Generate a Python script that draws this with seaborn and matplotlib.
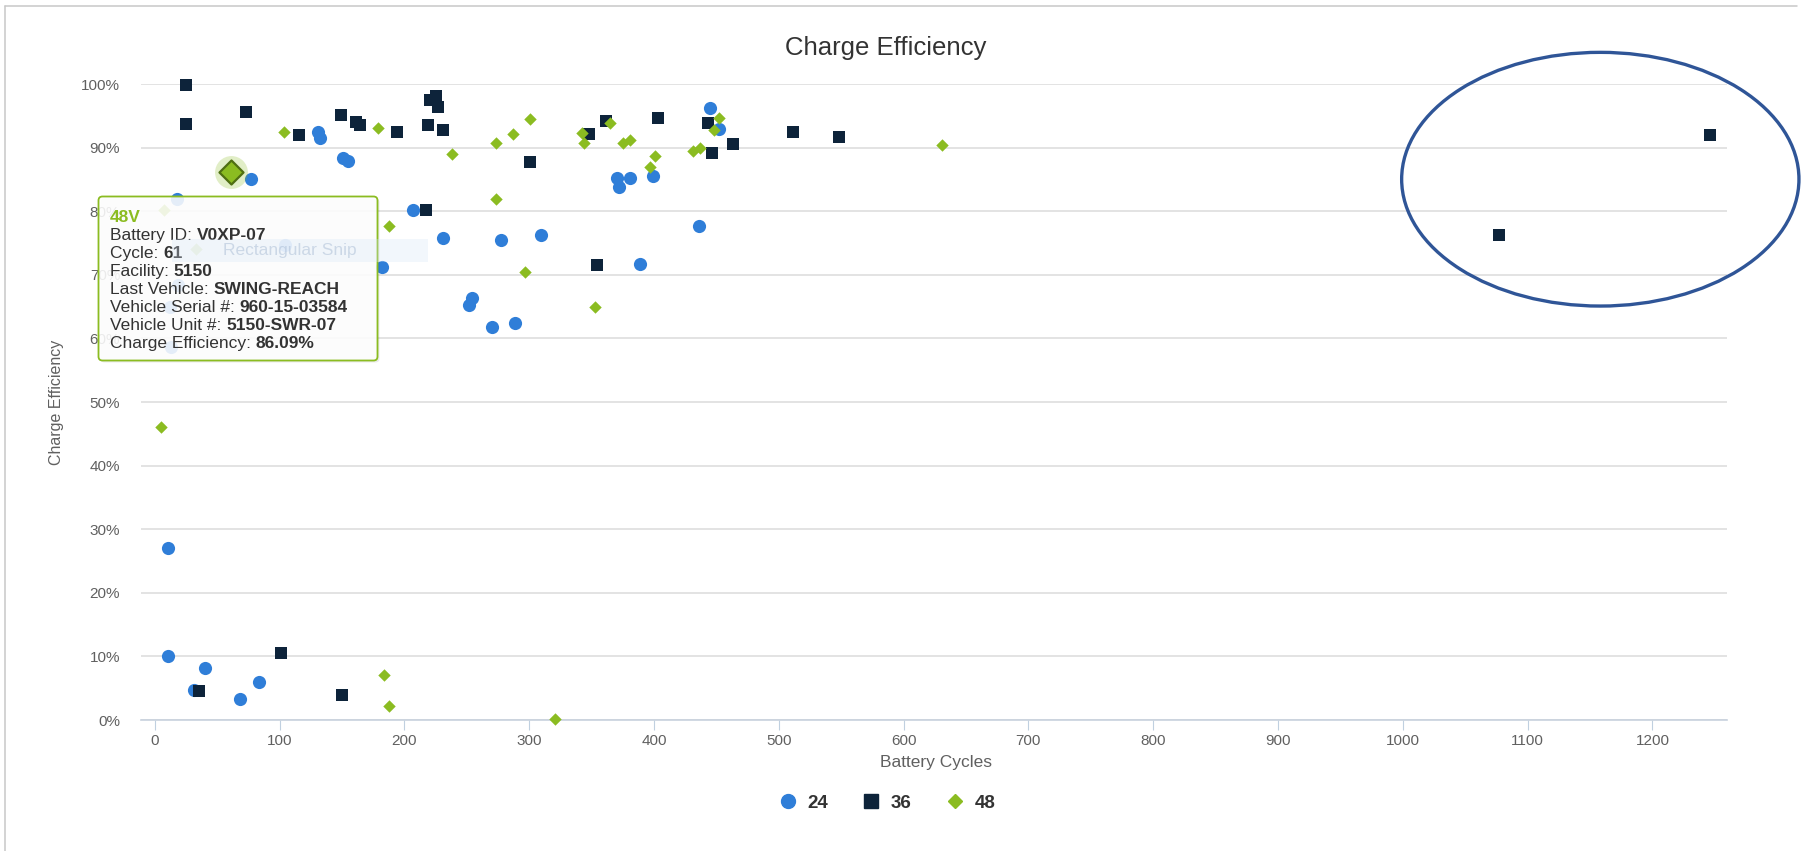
import matplotlib
matplotlib.use("Agg")
import matplotlib.pyplot as plt
import numpy as np
import pandas as pd
import seaborn as sns
from matplotlib.patches import FancyBboxPatch, Ellipse, Rectangle
from matplotlib.lines import Line2D
from matplotlib.transforms import IdentityTransform

# ---- data: battery cycles vs. charge efficiency (%) by pack voltage ----
cycles_24 = [10.6, 10.6, 40.5, 31.3, 68.5, 83.3, 17.9, 104, 18.6, 12, 13.3,
             77.4, 130.8, 132.1, 150.8, 154.8, 206.8, 231, 277.6, 309.6, 182.3,
             254, 252, 270.5, 289, 370, 381, 372, 399, 389, 435.8, 445.2, 452.4]
eff_24 = [27.0, 10.0, 8.2, 4.7, 3.3, 6.0, 81.9, 74.7, 68.4, 65.0, 58.7,
          85.0, 92.5, 91.5, 88.3, 87.9, 80.2, 75.8, 75.5, 76.2, 71.2,
          66.3, 65.2, 61.8, 62.4, 85.2, 85.2, 83.8, 85.6, 71.7, 77.6, 96.2, 93.0]

cycles_36 = [25.4, 25.4, 73.4, 115.3, 149.5, 161, 164.7, 194.3, 220.2, 225.5,
             226.8, 218.8, 231, 300.9, 217.5, 354, 348.3, 361.6, 403.5, 443,
             446.2, 463.6, 511, 548, 101, 35.4, 150, 1077, 1246]
eff_36 = [99.8, 93.7, 95.6, 92.0, 95.1, 94.1, 93.6, 92.4, 97.5, 98.1,
          96.4, 93.6, 92.7, 87.8, 80.2, 71.6, 92.2, 94.2, 94.6, 93.9,
          89.1, 90.5, 92.4, 91.6, 10.5, 4.5, 3.9, 76.2, 92.0]

cycles_48 = [61, 7.2, 33.4, 103.5, 178.8, 238.3, 188, 273.8, 273.8, 287.4,
             300.9, 297, 353, 342.4, 344.3, 364.8, 375, 381, 401, 397,
             431, 437, 451.8, 448.4, 631, 5, 183.5, 188, 320.6]
eff_48 = [86.09, 80.2, 74.0, 92.4, 93.1, 89.0, 77.7, 90.7, 81.9, 92.2,
          94.5, 70.5, 65.0, 92.3, 90.7, 93.8, 90.7, 91.2, 88.7, 86.9,
          89.5, 89.9, 94.6, 92.8, 90.4, 46.1, 7.1, 2.2, 0.2]

voltages = ["24", "36", "48"]
x_ticks = list(range(0, 1300, 100))
y_ticks = list(range(0, 110, 10))

# point under the hover tooltip (first 48 V entry)
hover_index = 0
hover_info = [("Battery ID: ", "V0XP-07"),
              ("Cycle: ", f"{cycles_48[hover_index]:g}"),
              ("Facility: ", "5150"),
              ("Last Vehicle: ", "SWING-REACH"),
              ("Vehicle Serial #: ", "960-15-03584"),
              ("Vehicle Unit #: ", "5150-SWR-07"),
              ("Charge Efficiency: ", f"{eff_48[hover_index]:.2f}%")]

frames = []
for v, xs, ys in zip(voltages, [cycles_24, cycles_36, cycles_48], [eff_24, eff_36, eff_48]):
    frames.append(pd.DataFrame({"cycles": xs, "efficiency": ys, "voltage": v}))
df = pd.concat(frames, ignore_index=True)

# ---- styling ----
colors = {"24": "#2f7ed8", "36": "#0d233a", "48": "#8bbc21"}
markers = {"24": "o", "36": "s", "48": "D"}
sizes = {"24": 90, "36": 82, "48": 40}

sns.set_theme(style="white")
plt.rcParams["font.family"] = ["Liberation Sans", "DejaVu Sans"]

W, H = 1809, 851
fig = plt.figure(figsize=(W / 100, H / 100), dpi=100)
fig.patch.set_facecolor("white")


def fx(px):
    return px / W


def fy(py):
    return 1 - py / H


left, right, top, bottom = 141, 1727, 84, 720
ax = fig.add_axes([fx(left), fy(bottom), fx(right) - fx(left), fy(top) - fy(bottom)])

for z, v in enumerate(voltages):
    sns.scatterplot(data=df[df["voltage"] == v], x="cycles", y="efficiency",
                    color=colors[v], marker=markers[v], s=sizes[v], linewidth=0,
                    ax=ax, legend=False, clip_on=False, zorder=3 + z)

# hovered point: halo + enlarged marker
hover_df = df[df["voltage"] == "48"].iloc[[hover_index]]
sns.scatterplot(data=hover_df, x="cycles", y="efficiency", color="#8bbc21",
                marker="o", s=560, alpha=0.25, linewidth=0, ax=ax, legend=False,
                zorder=7)
sns.scatterplot(data=hover_df, x="cycles", y="efficiency", color="#8bbc21",
                marker="D", s=150, edgecolor="#4f6f12", linewidth=1.6, ax=ax,
                legend=False, zorder=8)

ax.set_xlim(-11, 1259.7)
ax.set_ylim(0, 100)
ax.set_xticks(x_ticks)
ax.set_xticklabels([str(t) for t in x_ticks])
ax.set_yticks(y_ticks)
ax.set_yticklabels([f"{t}%" for t in y_ticks])

for s in ["left", "right", "top"]:
    ax.spines[s].set_visible(False)
ax.spines["bottom"].set_color("#c8d2de")
ax.spines["bottom"].set_linewidth(1.2)

ax.yaxis.grid(True, color="#dedede", linewidth=1.2)
ax.xaxis.grid(False)
ax.set_axisbelow(True)

ax.tick_params(axis="y", length=0, pad=15, labelsize=11, labelcolor="#606060")
ax.tick_params(axis="x", bottom=True, length=7.5, width=0.8, color="#c0d0e0",
               pad=2.5, labelsize=11, labelcolor="#606060", direction="out")

ax.set_xlabel("Battery Cycles", fontsize=12.5, color="#606060")
ax.xaxis.set_label_coords((936 - left) / (right - left), (bottom - 762.5) / (bottom - top))
ax.xaxis.label.set_verticalalignment("center")
ax.set_ylabel("Charge Efficiency", fontsize=11.5, color="#606060")
ax.yaxis.set_label_coords((57 - left) / (right - left), 0.5)
ax.yaxis.label.set_verticalalignment("center")

# title
fig.text(fx(886), fy(48), "Charge Efficiency", ha="center", va="center",
         fontsize=18.5, color="#333333")

# legend
handles = [Line2D([], [], linestyle="", marker=markers[v], color=colors[v],
                  markersize={"24": 10.0, "36": 10.0, "48": 7.2}[v]) for v in voltages]
fig.legend(handles, voltages, loc="center", bbox_to_anchor=(fx(887), fy(803)),
           ncol=3, frameon=False, prop={"weight": "bold", "size": 13.5},
           labelcolor="#333333", handlelength=1.0, handletextpad=0.55,
           columnspacing=1.8)

# outer chart frame (top and left edges)
fig.add_artist(Line2D([5, 1797], [H - 6, H - 6], transform=IdentityTransform(),
                      color="#c8c8c8", linewidth=1.1))
fig.add_artist(Line2D([5, 5], [0, H - 6], transform=IdentityTransform(),
                      color="#c8c8c8", linewidth=1.1))

# hover tooltip
tx0, ty0, tx1, ty1 = 98.5, 196.5, 377.5, 360.5
shadow = FancyBboxPatch((tx0 + 2, H - ty1 - 2), tx1 - tx0, ty1 - ty0,
                        boxstyle="round,pad=0,rounding_size=4",
                        transform=IdentityTransform(), facecolor="#000000",
                        alpha=0.08, edgecolor="none", zorder=9)
box = FancyBboxPatch((tx0, H - ty1), tx1 - tx0, ty1 - ty0,
                     boxstyle="round,pad=0,rounding_size=4",
                     transform=IdentityTransform(), facecolor=(1, 1, 1, 0.88),
                     edgecolor="#8bbc21", linewidth=1.3, zorder=10)
fig.add_artist(shadow)
fig.add_artist(box)

text_x = 110
tip_size = 12.5
fig.text(text_x, H - 222, "48V", transform=IdentityTransform(), ha="left",
         va="baseline", fontsize=tip_size, fontweight="bold", color="#8bbc21", zorder=11)
renderer = fig.canvas.get_renderer()
for i, (label, value) in enumerate(hover_info):
    base = H - (234 + 18 * i + 6.2)
    t = fig.text(text_x, base, label, transform=IdentityTransform(), ha="left",
                 va="baseline", fontsize=tip_size, color="#333333", zorder=11)
    w = t.get_window_extent(renderer).width
    fig.text(text_x + w, base, value, transform=IdentityTransform(), ha="left",
             va="baseline", fontsize=tip_size, fontweight="bold", color="#333333",
             zorder=11)

# faint screen-capture hint over the tooltip
fig.add_artist(Rectangle((172, H - 262), 256, 23.5, transform=IdentityTransform(),
                         facecolor="#d6e6f8", alpha=0.3, edgecolor="none", zorder=12))
fig.text(223, H - 251, "Rectangular Snip", transform=IdentityTransform(),
         ha="left", va="center", fontsize=12.5, color="#9fb4cf", alpha=0.45, zorder=13)

# call-out ellipse around the high-cycle packs
fig.add_artist(Ellipse((1600.3, H - 179.2), 397.3, 253.7, transform=IdentityTransform(),
                       fill=False, edgecolor="#2f5597", linewidth=2.4, zorder=14))

fig.savefig("out.png", dpi=100, facecolor="white")
